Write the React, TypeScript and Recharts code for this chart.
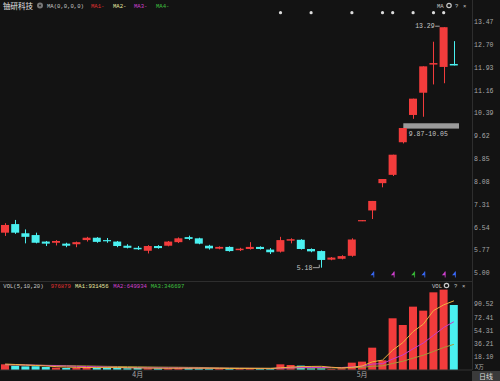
import {
  ComposedChart,
  Bar,
  Line,
  XAxis,
  YAxis,
  Cell,
  ReferenceDot,
  ReferenceArea,
} from "recharts";

// daily candles, mid March to mid May
const opens = [6.36, 6.65, 6.34, 6.28, 6.06, 6.02, 5.99, 5.97, 6.11, 6.19, 6.11, 6.06, 5.92, 5.85, 5.75, 5.91, 5.92, 6.04, 6.21, 6.17, 5.92, 5.82, 5.88, 5.77, 5.81, 5.88, 5.79, 5.72, 6.09, 6.12, 5.81, 5.74, 5.45, 5.48, 5.58, 6.75, 7.11, 8.03, 8.31, 9.41, 10.33, 11.08, 12.03, 11.95, 12.05];
const highs = [6.68, 6.79, 6.47, 6.36, 6.08, 6.11, 6.02, 6.06, 6.22, 6.21, 6.18, 6.08, 5.97, 5.91, 5.94, 5.94, 6.08, 6.2, 6.26, 6.19, 5.95, 5.9, 5.9, 5.85, 6.04, 5.9, 5.84, 6.22, 6.17, 6.14, 5.83, 5.76, 5.54, 5.6, 6.17, 6.75, 7.43, 8.17, 8.99, 9.89, 10.88, 11.97, 12.8, 13.29, 12.82];
const lows = [6.25, 6.32, 6.0, 6.0, 5.91, 5.93, 5.87, 5.87, 6.06, 6.02, 6.02, 5.87, 5.83, 5.78, 5.66, 5.82, 5.9, 6.01, 6.11, 5.97, 5.79, 5.8, 5.72, 5.74, 5.79, 5.79, 5.64, 5.69, 6.0, 5.79, 5.7, 5.18, 5.43, 5.46, 5.55, 6.75, 6.82, 7.89, 8.27, 9.37, 10.2, 10.27, 11.36, 11.4, 12.0];
const closes = [6.62, 6.36, 6.22, 6.02, 5.99, 6.08, 5.92, 6.04, 6.19, 6.05, 6.09, 5.91, 5.85, 5.8, 5.91, 5.84, 6.06, 6.17, 6.15, 5.99, 5.83, 5.88, 5.74, 5.82, 5.88, 5.81, 5.7, 6.11, 6.14, 5.81, 5.73, 5.44, 5.52, 5.57, 6.13, 6.75, 7.43, 8.17, 8.99, 9.89, 10.88, 11.97, 12.08, 13.29, 12.0];

// volume in 万 and its moving averages
const volumes = [7.8, 6.0, 5.0, 5.0, 4.1, 3.2, 2.8, 3.2, 4.1, 3.2, 3.2, 2.8, 2.3, 2.8, 2.3, 2.3, 2.3, 2.8, 2.8, 2.3, 1.8, 1.8, 1.8, 2.3, 2.3, 1.4, 1.4, 7.8, 6.9, 6.0, 2.3, 2.3, 1.4, 2.3, 10.1, 11.5, 30.7, 13.3, 71.1, 61.9, 87.1, 81.6, 106.8, 110.5, 89.4];
const volMa5 = [8.2, 7.6, 6.9, 6.2, 5.58, 4.66, 4.02, 3.66, 3.48, 3.3, 3.3, 3.3, 3.12, 2.86, 2.68, 2.5, 2.4, 2.5, 2.5, 2.5, 2.4, 2.3, 2.1, 2.0, 2.0, 1.92, 1.84, 3.04, 3.96, 4.7, 4.88, 5.06, 3.78, 2.86, 3.68, 5.52, 11.2, 13.58, 27.34, 37.7, 52.82, 63.0, 81.7, 89.58, 95.08];
const volMa10 = [7.4, 7.2, 6.9, 6.6, 6.2, 5.8, 5.4, 5.0, 4.7, 4.44, 3.98, 3.66, 3.39, 3.17, 2.99, 2.9, 2.85, 2.81, 2.68, 2.59, 2.45, 2.35, 2.3, 2.25, 2.25, 2.16, 2.07, 2.57, 2.98, 3.35, 3.4, 3.45, 3.41, 3.41, 4.19, 5.2, 8.13, 8.68, 15.1, 20.69, 29.17, 37.1, 47.64, 58.46, 66.39];
const volMa20 = [7.0, 6.9, 6.8, 6.6, 6.4, 6.2, 6.0, 5.8, 5.6, 5.3, 5.0, 4.8, 4.6, 4.4, 4.2, 4.0, 3.9, 3.8, 3.6, 3.52, 3.22, 3.01, 2.85, 2.71, 2.62, 2.53, 2.46, 2.69, 2.83, 2.97, 2.93, 2.9, 2.86, 2.83, 3.22, 3.68, 5.1, 5.63, 9.04, 12.02, 16.29, 20.28, 25.53, 30.94, 35.29];

const priceTicks = [5.0, 5.77, 6.54, 7.31, 8.08, 8.85, 9.62, 10.39, 11.16, 11.93, 12.7, 13.47];
const volTicks = [18.1, 36.21, 54.31, 72.41, 90.52];
const monthLabels = ["4月", "5月"];
const monthStarts = [13, 35];

// info dots along the top, signal flags along the bottom
const eventDays = [27, 30, 34, 37, 38, 40, 42, 43];
const flagDays = [36, 38, 40, 41, 43, 44];
const flagColors = ["#3a6cff", "#d040d0", "#38c038", "#3a6cff", "#d040d0", "#3a6cff"];

const MARK_LEVEL = 13.78;
const FLAG_LEVEL = 4.95;

const UP = "#f23c3c";
const DOWN = "#4af0f0";
const BG = "#131313";
const AXIS = "#a8a8a8";
const MONO = "'Liberation Mono', 'DejaVu Sans Mono', monospace";
const CJK = "'Noto Sans CJK SC', sans-serif";

const rows = opens.map((o, i) => ({
  i,
  range: [lows[i], highs[i]],
  open: o,
  high: highs[i],
  low: lows[i],
  close: closes[i],
  vol: volumes[i],
  ma5: volMa5[i],
  ma10: volMa10[i],
  ma20: volMa20[i],
}));

const Candle = (props: any) => {
  const { x, y, width, height, payload } = props;
  const { open, close, high, low } = payload;
  const color = close >= open ? UP : DOWN;
  const top0 = Math.min(y, y + height);
  const h = Math.abs(height);
  const span = high - low;
  const toY = (v: number) => (span > 0 ? top0 + ((high - v) / span) * h : top0);
  const cx = Math.round(x + width / 2) + 0.5;
  const bTop = toY(Math.max(open, close));
  const bBot = toY(Math.min(open, close));
  return (
    <g>
      <line x1={cx} x2={cx} y1={top0} y2={top0 + h} stroke={color} strokeWidth={1} />
      <rect x={x} y={bTop} width={width} height={Math.max(bBot - bTop, 1.2)} fill={color} />
    </g>
  );
};

const Flag = (props: any) => {
  const { cx, cy, fill } = props;
  return (
    <g>
      <path d={`M ${cx + 1.5} ${cy - 3} L ${cx - 1.8} ${cy + 0.8} L ${cx + 1.5} ${cy + 0.8} Z`} fill={fill} />
      <line x1={cx + 1.5} x2={cx + 1.5} y1={cy - 3} y2={cy + 3} stroke={fill} strokeWidth={0.8} />
    </g>
  );
};

const tickStyle = { fill: AXIS, fontSize: 6.5, fontFamily: MONO };

const App = () => {
  return (
    <div
      style={{
        position: "absolute",
        left: 0,
        top: 0,
        width: 500,
        height: 381,
        background: BG,
        overflow: "hidden",
      }}
    >
      <div style={{ position: "absolute", left: 0, top: 0 }}>
        <ComposedChart width={500} height={282} data={rows} margin={{ top: 0, right: 0, bottom: 0, left: 0 }}>
          <XAxis dataKey="i" type="category" hide padding={{ left: 0, right: 13 }} />
          <YAxis
            orientation="right"
            width={28}
            domain={[4.6965, 14.2075]}
            ticks={priceTicks}
            tickFormatter={(v: number) => v.toFixed(2)}
            axisLine={false}
            tickLine={false}
            tickSize={0}
            tickMargin={2}
            tick={tickStyle}
            allowDataOverflow
          />
          <ReferenceArea
            x1={39}
            y1={9.87}
            y2={10.05}
            ifOverflow="visible"
            shape={(p: any) => (
              <rect x={p.x + 5.5} y={p.y} width={p.width - 5.5} height={p.height} fill="#9a9a9a" />
            )}
            label={(p: any) => (
              <text
                x={p.viewBox.x + 11}
                y={p.viewBox.y + p.viewBox.height + 7}
                fill="#c8c8c8"
                fontSize={6.5}
                fontFamily={MONO}
              >
                9.87-10.05
              </text>
            )}
          />
          <Bar dataKey="range" shape={Candle} barSize={8} minPointSize={1} isAnimationActive={false} />
          {eventDays.map((d) => (
            <ReferenceDot key={"e" + d} x={d} y={MARK_LEVEL} r={1.6} fill="#dcdcdc" stroke="none" />
          ))}
          {flagDays.map((d, k) => (
            <ReferenceDot key={"f" + d} x={d} y={FLAG_LEVEL} r={2} fill={flagColors[k]} shape={Flag} />
          ))}
          <ReferenceDot
            x={43}
            y={13.29}
            r={1}
            fill="none"
            stroke="none"
            label={(p: any) => {
              const cx = p.viewBox.x + p.viewBox.width / 2;
              const cy = p.viewBox.y + p.viewBox.height / 2 - 1;
              return (
                <g>
                  <text x={cx - 9} y={cy + 2.2} textAnchor="end" fill="#c8c8c8" fontSize={6.5} fontFamily={MONO}>
                    13.29
                  </text>
                  <line x1={cx - 8.5} x2={cx - 4} y1={cy} y2={cy} stroke="#c8c8c8" strokeWidth={0.8} />
                </g>
              );
            }}
          />
          <ReferenceDot
            x={31}
            y={5.18}
            r={1}
            fill="none"
            stroke="none"
            label={(p: any) => {
              const cx = p.viewBox.x + p.viewBox.width / 2;
              const cy = p.viewBox.y + p.viewBox.height / 2;
              return (
                <g>
                  <text x={cx - 9} y={cy + 2.2} textAnchor="end" fill="#c8c8c8" fontSize={6.5} fontFamily={MONO}>
                    5.18
                  </text>
                  <line x1={cx - 8.5} x2={cx - 2} y1={cy} y2={cy} stroke="#c8c8c8" strokeWidth={0.8} />
                  <line x1={cx - 2} x2={cx - 2} y1={cy} y2={cy - 3} stroke="#c8c8c8" strokeWidth={0.8} />
                </g>
              );
            }}
          />
        </ComposedChart>
      </div>

      <div style={{ position: "absolute", left: 0, top: 282 }}>
        <ComposedChart width={500} height={99} data={rows} margin={{ top: 0, right: 0, bottom: 0, left: 0 }}>
          <XAxis
            dataKey="i"
            type="category"
            padding={{ left: 0, right: 13 }}
            height={11}
            ticks={monthStarts}
            interval={0}
            tickFormatter={(v: number) => monthLabels[monthStarts.indexOf(v)]}
            axisLine={{ stroke: "#333333" }}
            tickLine={false}
            tickSize={0}
            tickMargin={2}
            tick={{ fill: AXIS, fontSize: 7, fontFamily: CJK }}
          />
          <YAxis
            orientation="right"
            width={28}
            domain={[0, 121]}
            ticks={volTicks}
            tickFormatter={(v: number) => v.toFixed(2)}
            axisLine={false}
            tickLine={false}
            tickSize={0}
            tickMargin={2}
            tick={tickStyle}
            allowDataOverflow
          />
          <Bar dataKey="vol" barSize={8} isAnimationActive={false}>
            {rows.map((r) => (
              <Cell key={r.i} fill={r.close >= r.open ? UP : DOWN} />
            ))}
          </Bar>
          <Line dataKey="ma20" stroke="#a89838" strokeWidth={1} dot={false} isAnimationActive={false} />
          <Line dataKey="ma10" stroke="#c83cc8" strokeWidth={1} dot={false} isAnimationActive={false} />
          <Line dataKey="ma5" stroke="#f0b040" strokeWidth={1} dot={false} isAnimationActive={false} />
        </ComposedChart>
      </div>

      <svg
        width={500}
        height={381}
        style={{ position: "absolute", left: 0, top: 0, pointerEvents: "none" }}
      >
        <line x1={472.5} x2={472.5} y1={0} y2={370} stroke="#2e2e2e" />
        <line x1={0} x2={472} y1={281.5} y2={281.5} stroke="#2e2e2e" />

        <text x={3} y={9} fill="#e6e6e6" fontSize={7.5} fontFamily={CJK}>铀研科技</text>
        <circle cx={40} cy={5.5} r={3} fill="#777777" />
        <circle cx={40} cy={5.5} r={1} fill="#222222" />
        <g fontSize={5.6} fontFamily={MONO}>
          <text x={47} y={7.5} fill="#c8c8c8">MA(0,0,0,0)</text>
          <text x={91} y={7.5} fill="#e03030">MA1-</text>
          <text x={113} y={7.5} fill="#e8e8a0">MA2-</text>
          <text x={134} y={7.5} fill="#d040d0">MA3-</text>
          <text x={156} y={7.5} fill="#40c040">MA4-</text>
          <text x={437} y={7.5} fill="#c8c8c8">MA</text>
          <text x={455} y={7.5} fill="#c8c8c8">?</text>
          <text x={463} y={7.5} fill="#c8c8c8">×</text>

          <text x={3.3} y={287.5} fill="#c8c8c8">VOL(5,10,20)</text>
          <text x={50.7} y={287.5} fill="#e03030">976879</text>
          <text x={75} y={287.5} fill="#e8e8a0">MA1:931456</text>
          <text x={113.3} y={287.5} fill="#d040d0">MA2:649934</text>
          <text x={150.7} y={287.5} fill="#40c040">MA3:346697</text>
          <text x={432} y={287.5} fill="#c8c8c8">VOL</text>
          <text x={454} y={287.5} fill="#c8c8c8">?</text>
          <text x={462} y={287.5} fill="#c8c8c8">×</text>
        </g>
        <circle cx={449} cy={5.5} r={2.2} fill="none" stroke="#c8c8c8" strokeWidth={1.2} />
        <circle cx={446.5} cy={285.5} r={2.2} fill="none" stroke="#c8c8c8" strokeWidth={1.2} />

        <text x={475} y={368.5} fill={AXIS} fontSize={5.5} fontFamily={CJK}>X万</text>
        <rect x={472} y={371} width={28} height={10} fill="#3a3a3a" />
        <text x={479} y={379} fill="#dddddd" fontSize={7} fontFamily={CJK}>日线</text>
      </svg>
    </div>
  );
};

export default App;
